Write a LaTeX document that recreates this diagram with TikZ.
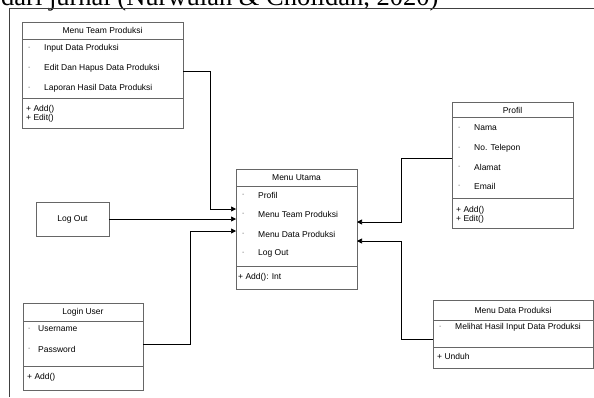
\documentclass[tikz,border=0pt]{standalone}
\usepackage{fontspec}
\setmainfont{Liberation Sans}
\newfontfamily\capfont{Liberation Serif}
\usetikzlibrary{arrows.meta}
\tikzset{
    umlbox/.style={draw=black!60,line width=0.9pt,anchor=north west,inner sep=0pt},
    divider/.style={draw=black!60,line width=0.9pt},
    title/.style={inner sep=0pt,text=black,font=\fontsize{8.5}{10}\selectfont},
    attr/.style={anchor=west,inner sep=0pt,text=black,font=\fontsize{8.5}{10}\selectfont},
    dashmark/.style={anchor=west,inner sep=0pt,text=black!55,font=\fontsize{7}{8}\selectfont},
    conn/.style={-{Triangle[length=5pt,width=5pt]},line width=0.7pt},
    frame/.style={draw=black!75,line width=0.8pt}
}
\begin{document}
\begin{tikzpicture}[x=1pt,y=-1pt]
        \useasboundingbox (0,0) rectangle (594,397);
        \begin{scope}
            \clip (0,0) rectangle (594,397);
            \node [anchor=base west,inner sep=0pt,font=\capfont\fontsize{26.5}{27}\selectfont] (caption) at (1,5.5) {dari jurnal (Nurwulan \& Cholidah, 2020)};
        \end{scope}
        \draw [frame] (9.3,397) -- (9.3,8.3) -- (594,8.3);

        \node [umlbox,minimum width=161pt,minimum height=106pt] (team) at (22,22) {};
        \node [title] (teamTitle) at (102.5,30.5) {Menu Team Produksi};
        \draw [divider] (22,39) -- (183,39) (22,98) -- (183,98);
        \foreach \y\t [count=\i] in {48/Input Data Produksi,68/Edit Dan Hapus Data Produksi,88/Laporan Hasil Data Produksi} {
                \node [dashmark] at (28,\y) {-};
                \node [attr] (team\i) at (44,\y) {\t};
            }
        \node [attr] (teamAdd) at (26,109) {+ Add()};
        \node [attr] (teamEdit) at (26,118.5) {+ Edit()};

        \node [umlbox,minimum width=121pt,minimum height=120pt] (utama) at (236,169) {};
        \node [title] (utamaTitle) at (296.5,178) {Menu Utama};
        \draw [divider] (236,186) -- (357,186) (236,266) -- (357,266);
        \foreach \y\t [count=\i] in {195/Profil,214/Menu Team Produksi,234/Menu Data Produksi,253/Log Out} {
                \node [dashmark] at (242,\y) {-};
                \node [attr] (utama\i) at (258,\y) {\t};
            }
        \node [attr] (utamaAdd) at (238,277) {+ Add(): Int};

        \node [umlbox,minimum width=121pt,minimum height=126pt] (profil) at (452,102) {};
        \node [title] (profilTitle) at (512.5,110) {Profil};
        \draw [divider] (452,117) -- (573,117) (452,198) -- (573,198);
        \foreach \y\t [count=\i] in {128/Nama,148/No. Telepon,167/Alamat,186/Email} {
                \node [dashmark] at (458,\y) {-};
                \node [attr] (profil\i) at (474,\y) {\t};
            }
        \node [attr] (profilAdd) at (456,210) {+ Add()};
        \node [attr] (profilEdit) at (456,219) {+ Edit()};

        \node [umlbox,minimum width=73pt,minimum height=34pt,anchor=center,font=\fontsize{8.5}{10}\selectfont,text=black] (logout) at (72.5,219) {Log Out};

        \node [umlbox,minimum width=120pt,minimum height=87pt] (login) at (23,303) {};
        \node [title] (loginTitle) at (83,312) {Login User};
        \draw [divider] (23,321) -- (143,321) (23,366) -- (143,366);
        \foreach \y\t [count=\i] in {329/Username,349/Password} {
                \node [dashmark] at (28,\y) {-};
                \node [attr] (login\i) at (38,\y) {\t};
            }
        \node [attr] (loginAdd) at (27,377) {+ Add()};

        \node [umlbox,minimum width=160pt,minimum height=68pt] (data) at (433,300) {};
        \node [title] (dataTitle) at (513,310) {Menu Data Produksi};
        \draw [divider] (433,320) -- (593,320) (433,347) -- (593,347);
        \node [dashmark] at (439,327) {-};
        \node [attr] (data1) at (455,327) {Melihat Hasil Input Data Produksi};
        \node [attr] (dataUnduh) at (437,356) {+ Unduh};

        \coordinate (outTeam) at (183,71);
        \coordinate (outLogin) at (143,344);
        \coordinate (outProfil) at (452,158);
        \coordinate (outData) at (433,339);
        \coordinate (inTeam) at (236,209);
        \coordinate (inLogout) at (236,219);
        \coordinate (inLogin) at (236,231);
        \coordinate (inProfil) at (357,222);
        \coordinate (inData) at (357,241);

        \draw [conn] (outTeam) -- ++(27,0) |- (inTeam);
        \draw [conn] (logout.east) -- (inLogout);
        \draw [conn] (outLogin) -- ++(47,0) |- (inLogin);
        \draw [conn] (outProfil) -- ++(-51,0) |- (inProfil);
        \draw [conn] (outData) -- ++(-32,0) |- (inData);
    \end{tikzpicture}
\end{document}
